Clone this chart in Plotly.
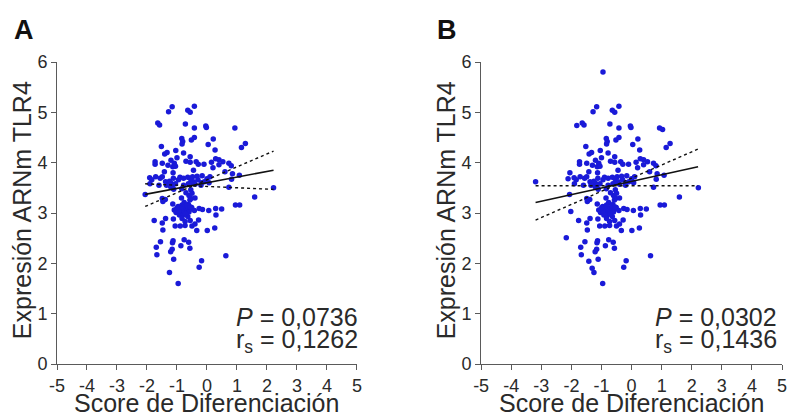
import plotly.graph_objects as go

# Shared samples (panel A)
x_a = [-1.16, -1.28, -0.42, -0.64, -0.56, -1.64, -1.58, -0.72, -0.42, -0.04, -0.02, 0.93,
       -0.84, -0.81, -0.83, -0.52, -0.42, 0.21, 1.28, 1.15, 0.04, -1.52, -1.04, -1.41, -1.33,
       -0.78, -0.56, 0.27, -1.73, -1.73, -1.49, -1.20, -1.09, -0.70, -0.56, -0.36, -0.29, -0.10,
       0.15, 0.29, 0.40, 0.53, 0.73, 0.81, 0.40, -1.14, -1.05, -1.42, -1.13, -1.71, -1.91, -1.84,
       -1.56, -1.49, -1.12, -0.90, -0.78, -0.64, -0.48, -0.33, -0.16, 0.10, 0.82, 1.08, -0.09,
       -1.38, -1.20, -1.21, -1.14, -0.53, -0.45, -0.19, 0.07, 0.73, 2.22, -2.06, -1.49, -1.39,
       -1.11, -0.84, -0.54, -0.50, -0.53, -0.57, -0.76, -1.47, -1.14, -0.96, -0.83, -0.62, -0.51,
       -1.09, -1.03, -0.90, -0.84, -0.70, -0.57, -0.26, -0.15, 0.06, 0.29, 0.49, 0.95, 1.09, 1.59,
       -0.92, -0.78, -0.64, -0.42, -0.83, -1.12, -1.38, -1.76, -0.73, -0.56, -0.28, 0.30, -1.49,
       -1.06, -0.89, -0.73, -0.50, -0.40, -1.47, -0.34, 0.01, 0.26, -1.55, -1.13, -1.15, -0.76,
       -0.61, -0.87, -0.57, -1.69, -1.16, -1.21, -1.67, 0.63, -1.11, -0.18, -0.26, -1.25, -0.96,
       -0.75, -0.68, -0.80, -0.60, -0.72, -0.88, -0.65, -0.55, -0.95, -1.00, -0.78, -0.62, -0.40,
       -0.30, -0.55, -1.25, -1.05, -0.95, -0.20, 0.00, -1.30, -1.00, -0.45, -0.60, -0.70, -0.40,
       -0.85, -1.35, 0.20, 0.60, 0.85, -1.90, -1.60]
y_a = [5.11, 5.01, 5.12, 5.04, 5.00, 4.79, 4.75, 4.77, 4.69, 4.73, 4.70, 4.69,
       4.48, 4.42, 4.37, 4.45, 4.50, 4.47, 4.38, 4.30, 4.36, 4.32, 4.24, 4.17, 4.20,
       4.19, 4.12, 4.25, 4.02, 3.97, 3.99, 4.05, 3.99, 4.03, 4.01, 4.02, 3.97, 3.97,
       4.01, 4.08, 4.06, 4.02, 3.99, 3.94, 3.96, 3.92, 3.93, 3.82, 3.80, 3.72, 3.70, 3.66,
       3.69, 3.72, 3.69, 3.71, 3.69, 3.71, 3.72, 3.73, 3.74, 3.72, 3.67, 3.75, 3.62,
       3.62, 3.59, 3.52, 3.56, 3.60, 3.62, 3.60, 3.60, 3.51, 3.50, 3.37, 3.29, 3.27,
       3.47, 3.48, 3.46, 3.39, 3.29, 3.26, 3.21, 3.23, 3.18, 3.13, 3.16, 3.17, 3.11,
       3.06, 3.01, 3.07, 3.01, 3.06, 3.07, 3.09, 3.07, 3.05, 3.09, 3.08, 3.16, 3.16, 3.32,
       2.96, 2.97, 2.93, 3.05, 2.89, 2.88, 2.89, 2.85, 2.83, 2.85, 2.86, 2.96, 2.80,
       2.74, 2.74, 2.75, 2.74, 2.78, 2.66, 2.65, 2.65, 2.70, 2.43, 2.45, 2.41, 2.47,
       2.42, 2.35, 2.30, 2.32, 2.28, 2.23, 2.17, 2.15, 2.08, 2.05, 1.92, 1.82, 1.60,
       3.03, 3.10, 3.12, 3.02, 2.99, 3.09, 3.14, 3.12, 3.04, 3.10, 3.55, 3.58, 3.57,
       3.66, 3.68, 3.63, 3.58, 3.66, 3.55, 3.68, 3.95, 4.10, 3.85, 3.35, 3.40, 3.30,
       3.30, 3.55, 3.90, 3.82, 3.78, 3.58, 3.55]

# Extra samples present only in panel B
x_b_extra = [-0.95, -3.19, -2.17, -1.82, 1.03, -2.02, -1.42, -1.31, -2.05, -2.11]
y_b_extra = [5.80, 3.62, 2.51, 4.74, 4.66, 3.03, 2.04, 1.90, 3.80, 3.68]
x_b = x_a + x_b_extra
y_b = y_a + y_b_extra

# Regression lines and 95% bands
fit_x_a = [-2.06, 2.22]
fit_y_a = [3.37, 3.85]
ci_hi_a = [3.13, 4.23]
ci_lo_a = [3.58, 3.47]
fit_x_b = [-3.19, 2.21]
fit_y_b = [3.21, 3.92]
ci_hi_b = [2.86, 4.27]
ci_lo_b = [3.54, 3.54]

p_text = ["0,0736", "0,0302"]
r_text = ["0,1262", "0,1436"]
panel_letters = ["A", "B"]

x_ticks = [-5, -4, -3, -2, -1, 0, 1, 2, 3, 4, 5]
x_tick_text = ["-5", "-4", "-3", "-2", "-1", "0", "1", "2", "3", "4", "5"]
y_ticks = [0, 1, 2, 3, 4, 5, 6]
y_tick_text = ["0", "1", "2", "3", "4", "5", "6"]

FONT = "Liberation Sans, Arial, sans-serif"
TXT = "#2a2a2a"
AX = "#5a5a5a"
DOT = "#1a1ad8"

fig = go.Figure()
for i, (xs, ys, fx, fy, hi, lo) in enumerate([
        (x_a, y_a, fit_x_a, fit_y_a, ci_hi_a, ci_lo_a),
        (x_b, y_b, fit_x_b, fit_y_b, ci_hi_b, ci_lo_b)]):
    xa = "x" if i == 0 else "x2"
    ya = "y" if i == 0 else "y2"
    fig.add_trace(go.Scatter(x=xs, y=ys, mode="markers", xaxis=xa, yaxis=ya,
                             marker=dict(size=5.5, color=DOT, line=dict(width=0)),
                             showlegend=False))
    fig.add_trace(go.Scatter(x=fx, y=fy, mode="lines", xaxis=xa, yaxis=ya,
                             line=dict(color="#111111", width=1.6), showlegend=False))
    for band in (hi, lo):
        fig.add_trace(go.Scatter(x=fx, y=band, mode="lines", xaxis=xa, yaxis=ya,
                                 line=dict(color="#111111", width=1.4, dash="3px,3px"),
                                 showlegend=False))

axis_common = dict(showline=True, linecolor=AX, linewidth=1, ticks="outside",
                   ticklen=5, tickcolor=AX, tickwidth=1, showgrid=False, zeroline=False,
                   tickfont=dict(family=FONT, size=18, color=TXT))
# The page body adds an 8px offset, so the figure is 8px smaller than the window
fig.update_layout(
    width=787, height=409,
    margin=dict(l=49, r=8, t=54, b=53),
    paper_bgcolor="white", plot_bgcolor="white",
    xaxis=dict(domain=[0, 0.4137], range=[-5, 5], tickvals=x_ticks, ticktext=x_tick_text,
               anchor="y", **axis_common),
    yaxis=dict(domain=[0, 1], range=[0, 6], tickvals=y_ticks, ticktext=y_tick_text,
               anchor="x", **axis_common),
    xaxis2=dict(domain=[0.585, 1], range=[-5, 5], tickvals=x_ticks, ticktext=x_tick_text,
                anchor="y2", **axis_common),
    yaxis2=dict(domain=[0, 1], range=[0, 6], tickvals=y_ticks, ticktext=y_tick_text,
                anchor="x2", **axis_common),
)

ann = []
offsets = [0.0, 0.585]
for i in range(2):
    o = offsets[i]
    w = 0.4137 if i == 0 else 0.415
    right = 0.4185 if i == 0 else 0.9955
    ann.append(dict(text="<b>%s</b>" % panel_letters[i], xref="paper", yref="paper",
                    x=(-0.0616 if i == 0 else 0.522), y=1.163, xanchor="left", yanchor="top",
                    showarrow=False, font=dict(family=FONT, size=27, color="#111111")))
    ann.append(dict(text="Expresión ARNm TLR4", xref="paper", yref="paper",
                    x=(-0.048 if i == 0 else 0.537), y=0.51, textangle=-90,
                    xanchor="center", yanchor="middle", showarrow=False,
                    font=dict(family=FONT, size=25, color=TXT)))
    ann.append(dict(text="Score de Diferenciación", xref="paper", yref="paper",
                    x=o + w / 2, y=-0.13, xanchor="center", yanchor="middle",
                    showarrow=False, font=dict(family=FONT, size=25, color=TXT)))
    ann.append(dict(text="<i>P</i> = %s" % p_text[i], xref="paper", yref="paper",
                    x=right, y=0.155, xanchor="right", yanchor="middle", showarrow=False,
                    font=dict(family=FONT, size=25, color=TXT)))
    ann.append(dict(text="r<sub>s</sub> = %s" % r_text[i], xref="paper", yref="paper",
                    x=right, y=0.075, xanchor="right", yanchor="middle", showarrow=False,
                    font=dict(family=FONT, size=25, color=TXT)))
fig.update_layout(annotations=ann)

fig.write_html("out.html")
